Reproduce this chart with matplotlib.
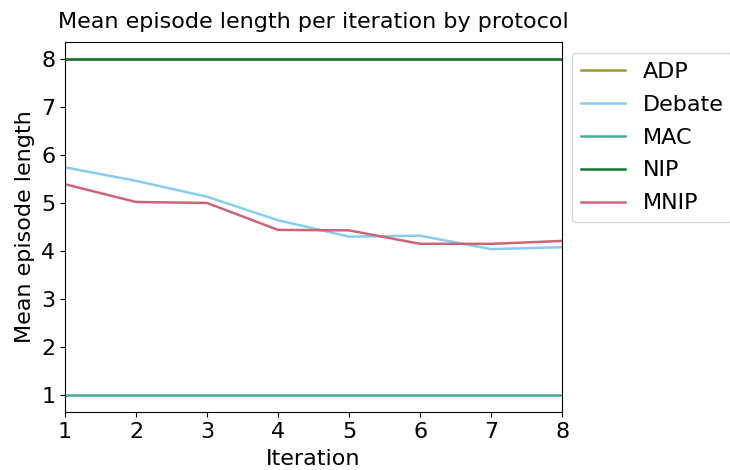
import matplotlib
matplotlib.use("Agg")
import matplotlib.pyplot as plt

iterations = [1, 2, 3, 4, 5, 6, 7, 8]
adp = [8, 8, 8, 8, 8, 8, 8, 8]
debate = [5.74, 5.46, 5.13, 4.64, 4.30, 4.32, 4.04, 4.08]
mac = [1, 1, 1, 1, 1, 1, 1, 1]
nip = [8, 8, 8, 8, 8, 8, 8, 8]
mnip = [5.39, 5.02, 5.00, 4.44, 4.43, 4.15, 4.15, 4.21]

series = [
    ("ADP", adp, "#999933"),
    ("Debate", debate, "#88CCEE"),
    ("MAC", mac, "#44AA99"),
    ("NIP", nip, "#117733"),
    ("MNIP", mnip, "#CC6677"),
]

fig = plt.figure(figsize=(7.3, 4.7), dpi=100)
axis = fig.add_axes([0.089, 0.123, 0.681, 0.788])
for name, values, colour in series:
    axis.plot(iterations, values, color=colour, linewidth=1.8, label=name)

axis.set_xlim(1, 8)
axis.set_xticks(iterations)
axis.set_yticks([1, 2, 3, 4, 5, 6, 7, 8])
axis.tick_params(labelsize=16)
axis.set_xlabel("Iteration", fontsize=16, labelpad=5)
axis.set_ylabel("Mean episode length", fontsize=16)
axis.set_title("Mean episode length per iteration by protocol", fontsize=16, pad=10)
axis.legend(loc="upper left", bbox_to_anchor=(1.02, 0.97), fontsize=16,
            handlelength=2.0, labelspacing=0.58, borderaxespad=0)

fig.savefig("out.png", dpi=100)
